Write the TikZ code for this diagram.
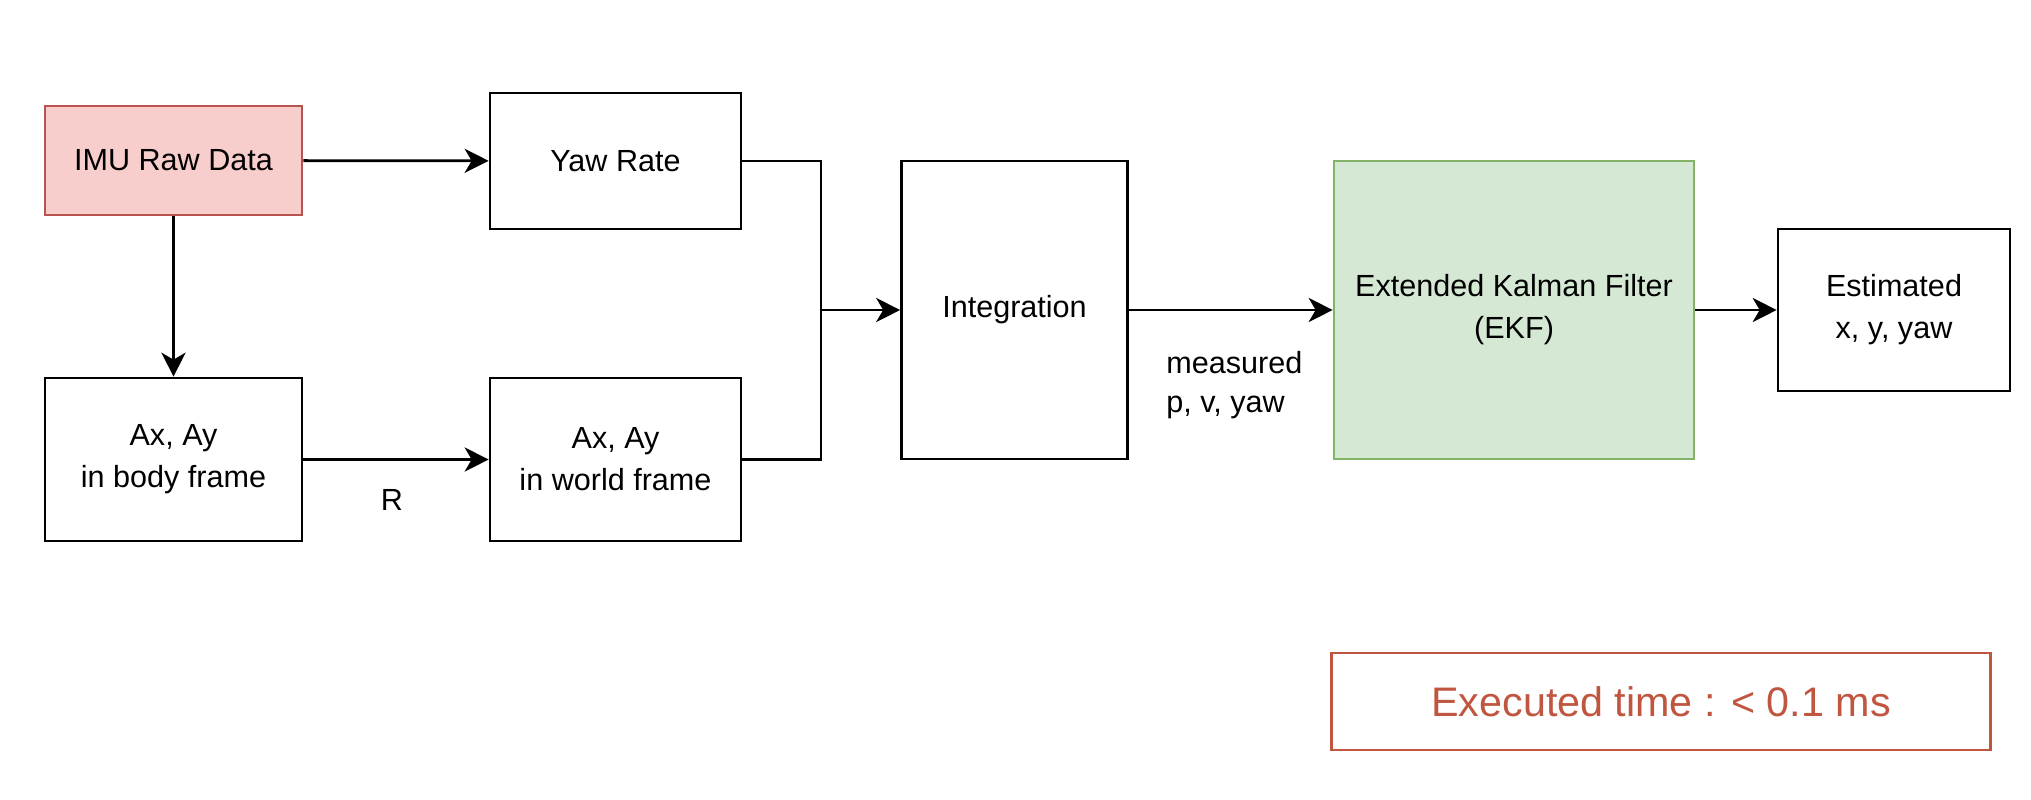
\documentclass[tikz,border=0pt]{standalone}
\usepackage{fontspec}
\setmainfont{Liberation Sans}
\usepackage{xcolor}
\usepackage{tikz}
\usetikzlibrary{positioning, arrows.meta}
\definecolor{imufill}{HTML}{F8CECC}
\definecolor{imuline}{HTML}{B85450}
\definecolor{ekffill}{HTML}{D5E8D4}
\definecolor{ekfline}{HTML}{82B366}
\definecolor{timered}{HTML}{C0563F}

\begin{document}
\begin{tikzpicture}[x=0.2mm, y=-0.2mm,
    block/.style={draw, line width=1.5pt, align=center, inner sep=0pt,
        font=\fontsize{17.4}{23.9}\selectfont},
    flow/.style={line width=1.6pt, -{Stealth[length=4.8mm, width=4.8mm, inset=1.4mm]}},
    wire/.style={line width=1.6pt},
    lbl/.style={inner sep=0pt, align=left, font=\fontsize{17.4}{22.5}\selectfont}]
\useasboundingbox (0,0) rectangle (2031,799);
% input side
\node[block, fill=imufill, draw=imuline, minimum width=51.4mm, minimum height=21.8mm] (imu) at (173.5,160.5) {IMU Raw Data};
\node[block, minimum width=50.2mm, minimum height=27.2mm] (yaw) at (615.5,161) {Yaw Rate};
\node[block, minimum width=51.4mm, minimum height=32.6mm] (body) at (173.5,459.5) {Ax, Ay\\in body frame};
\node[block, minimum width=50.2mm, minimum height=32.6mm] (world) at (615.5,459.5) {Ax, Ay\\in world frame};
% processing
\node[block, minimum width=45.2mm, minimum height=59.6mm] (integ) at (1014.5,310) {Integration};
\node[block, fill=ekffill, draw=ekfline, minimum width=72mm, minimum height=59.6mm] (ekf) at (1514,310) {Extended Kalman Filter\\(EKF)};
\node[block, minimum width=46.4mm, minimum height=32.4mm] (est) at (1894,310) {Estimated\\x, y, yaw};
% timing
\node[draw=timered, line width=1.2pt, text=timered, minimum width=131.8mm, minimum height=19.4mm,
    font=\fontsize{23.5}{28}\selectfont] (time) at (1661,701.5) {Executed time : < 0.1 ms};

\coordinate (join) at (821,310);
\draw[flow] (imu) -- (yaw);
\draw[flow] (imu) -- (body);
\draw[flow] (body) -- (world);
\draw[wire] (yaw.east) -| (join);
\draw[wire] (world.east) -| (join);
\draw[flow] (join) -- (integ);
\draw[flow] (integ) -- (ekf);
\draw[flow] (ekf) -- (est);

\node[lbl] (rlbl) at (392,500) {R};
\node[lbl, anchor=west] (meas) at (1166,385) {measured\\p, v, yaw};
\end{tikzpicture}
\end{document}
